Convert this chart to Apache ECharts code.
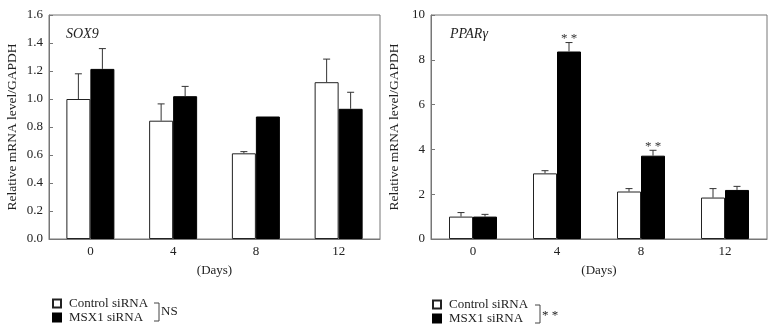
<!DOCTYPE html>
<html><head><meta charset="utf-8">
<script src="https://cdn.jsdelivr.net/npm/echarts@6/dist/echarts.min.js"></script>
<style>html,body{margin:0;padding:0;background:#fff}#c{width:774px;height:335px}</style>
</head><body><div id="c"></div>
<script>
const days = ['0', '4', '8', '12'];
const sox9Control = [1.00, 0.845, 0.612, 1.12];
const sox9ControlErr = [1.18, 0.965, 0.624, 1.285];
const sox9Msx1 = [1.215, 1.02, 0.875, 0.93];
const sox9Msx1Err = [1.36, 1.09, 0.875, 1.048];
const pparControl = [1.0, 2.93, 2.12, 1.85];
const pparControlErr = [1.18, 3.05, 2.25, 2.25];
const pparMsx1 = [1.0, 8.37, 3.72, 2.19];
const pparMsx1Err = [1.10, 8.77, 3.96, 2.35];
const pparMsx1Sig = ['', '**', '**', ''];
const yTicksSox9 = [0, 0.2, 0.4, 0.6, 0.8, 1.0, 1.2, 1.4, 1.6];
const yTicksPpar = [0, 2, 4, 6, 8, 10];

const FONT = 'Liberation Serif';
const BAR_W = 24;
const axisCol = '#777';

function errSeries(name, xi, yi, vals, errs, sigs, offset) {
  return {
    type: 'custom', name: name, xAxisIndex: xi, yAxisIndex: yi, z: 5,
    silent: true,
    data: vals.map((v, i) => [i, v, errs[i], sigs ? sigs[i] : '']),
    renderItem: function (params, api) {
      const p = api.coord([api.value(0), api.value(1)]);
      const q = api.coord([api.value(0), api.value(2)]);
      const x = p[0] + offset;
      const children = [];
      if (Math.abs(p[1] - q[1]) > 0.5) {
        children.push({ type: 'line', shape: { x1: x, y1: p[1], x2: x, y2: q[1] }, style: { stroke: '#333', lineWidth: 1 } });
        children.push({ type: 'line', shape: { x1: x - 3.5, y1: q[1], x2: x + 3.5, y2: q[1] }, style: { stroke: '#333', lineWidth: 1 } });
      }
      const s = api.value(3);
      if (s) {
        children.push({ type: 'text', style: { text: '* *', x: x, y: q[1] - 4, align: 'center', verticalAlign: 'middle', font: '13px ' + FONT, fill: '#333' } });
      }
      return { type: 'group', children: children };
    }
  };
}

function xAxisDef(gi) {
  return {
    type: 'category', gridIndex: gi, data: days,
    name: '(Days)', nameLocation: 'middle', nameGap: 25,
    nameTextStyle: { fontFamily: FONT, fontSize: 13, color: '#222' },
    axisLine: { lineStyle: { color: axisCol } },
    axisTick: { show: false },
    axisLabel: { fontFamily: FONT, fontSize: 13, color: '#222', margin: 6 }
  };
}
function yAxisDef(gi, ticks, fmt) {
  return {
    type: 'value', gridIndex: gi, min: ticks[0], max: ticks[ticks.length - 1], interval: ticks[1] - ticks[0],
    name: 'Relative mRNA level/GAPDH', nameLocation: 'middle', nameGap: 30,
    nameTextStyle: { fontFamily: FONT, fontSize: 13.5, color: '#222' },
    axisLine: { show: true, lineStyle: { color: axisCol } },
    axisTick: { show: true, inside: true, length: 4, lineStyle: { color: axisCol } },
    splitLine: { show: false },
    axisLabel: { fontFamily: FONT, fontSize: 13, color: '#222', margin: 6, formatter: fmt }
  };
}

const ctrlStyle = { color: '#fff', borderColor: '#222', borderWidth: 1 };
const msxStyle = { color: '#000', borderColor: '#000', borderWidth: 1 };

const option = {
  animation: false,
  grid: [
    { left: 49, right: 394, top: 15, bottom: 96, show: true, borderColor: axisCol, borderWidth: 1, backgroundColor: 'transparent' },
    { left: 431, right: 7, top: 15, bottom: 96, show: true, borderColor: axisCol, borderWidth: 1, backgroundColor: 'transparent' }
  ],
  title: [
    { text: 'SOX9', left: 61, top: 22, textStyle: { fontFamily: FONT, fontStyle: 'italic', fontWeight: 'normal', fontSize: 14, color: '#222' } },
    { text: 'PPARγ', left: 445, top: 22, textStyle: { fontFamily: FONT, fontStyle: 'italic', fontWeight: 'normal', fontSize: 14, color: '#222' } }
  ],
  xAxis: [xAxisDef(0), xAxisDef(1)],
  yAxis: [yAxisDef(0, yTicksSox9, v => v.toFixed(1)), yAxisDef(1, yTicksPpar, v => String(v))],
  legend: [
    { orient: 'vertical', left: 52, top: 297, itemWidth: 8, itemHeight: 8, itemGap: 1, padding: 0, icon: 'rect',
      data: ['Control siRNA', 'MSX1 siRNA'], selectedMode: false,
      textStyle: { fontFamily: FONT, fontSize: 13, color: '#222', padding: [0, 0, 0, 3] } },
    { orient: 'vertical', left: 432, top: 298, itemWidth: 8, itemHeight: 8, itemGap: 1, padding: 0, icon: 'rect',
      data: ['Control siRNA', 'MSX1 siRNA'], selectedMode: false,
      textStyle: { fontFamily: FONT, fontSize: 13, color: '#222', padding: [0, 0, 0, 3] } }
  ],
  graphic: [
    { type: 'polyline', shape: { points: [[154, 303], [159, 303], [159, 321], [154, 321]] }, style: { stroke: '#444', fill: null, lineWidth: 1 } },
    { type: 'text', left: 161, top: 305, style: { text: 'NS', font: '13px ' + FONT, fill: '#222' } },
    { type: 'polyline', shape: { points: [[535, 305], [540, 305], [540, 323], [535, 323]] }, style: { stroke: '#444', fill: null, lineWidth: 1 } },
    { type: 'text', left: 542, top: 309, style: { text: '* *', font: '13px ' + FONT, fill: '#222' } }
  ],
  series: [
    { type: 'bar', name: 'Control siRNA', xAxisIndex: 0, yAxisIndex: 0, data: sox9Control, barWidth: BAR_W, barGap: '0%', itemStyle: ctrlStyle },
    { type: 'bar', name: 'MSX1 siRNA', xAxisIndex: 0, yAxisIndex: 0, data: sox9Msx1, barWidth: BAR_W, barGap: '0%', itemStyle: msxStyle },
    errSeries('e1', 0, 0, sox9Control, sox9ControlErr, null, -BAR_W / 2),
    errSeries('e2', 0, 0, sox9Msx1, sox9Msx1Err, null, BAR_W / 2),
    { type: 'bar', name: 'Control siRNA', xAxisIndex: 1, yAxisIndex: 1, data: pparControl, barWidth: BAR_W, barGap: '0%', itemStyle: ctrlStyle },
    { type: 'bar', name: 'MSX1 siRNA', xAxisIndex: 1, yAxisIndex: 1, data: pparMsx1, barWidth: BAR_W, barGap: '0%', itemStyle: msxStyle },
    errSeries('e3', 1, 1, pparControl, pparControlErr, null, -BAR_W / 2),
    errSeries('e4', 1, 1, pparMsx1, pparMsx1Err, pparMsx1Sig, BAR_W / 2)
  ]
};
const chart = echarts.init(document.getElementById('c'), null, { renderer: 'canvas' });
chart.setOption(option);
</script></body></html>
